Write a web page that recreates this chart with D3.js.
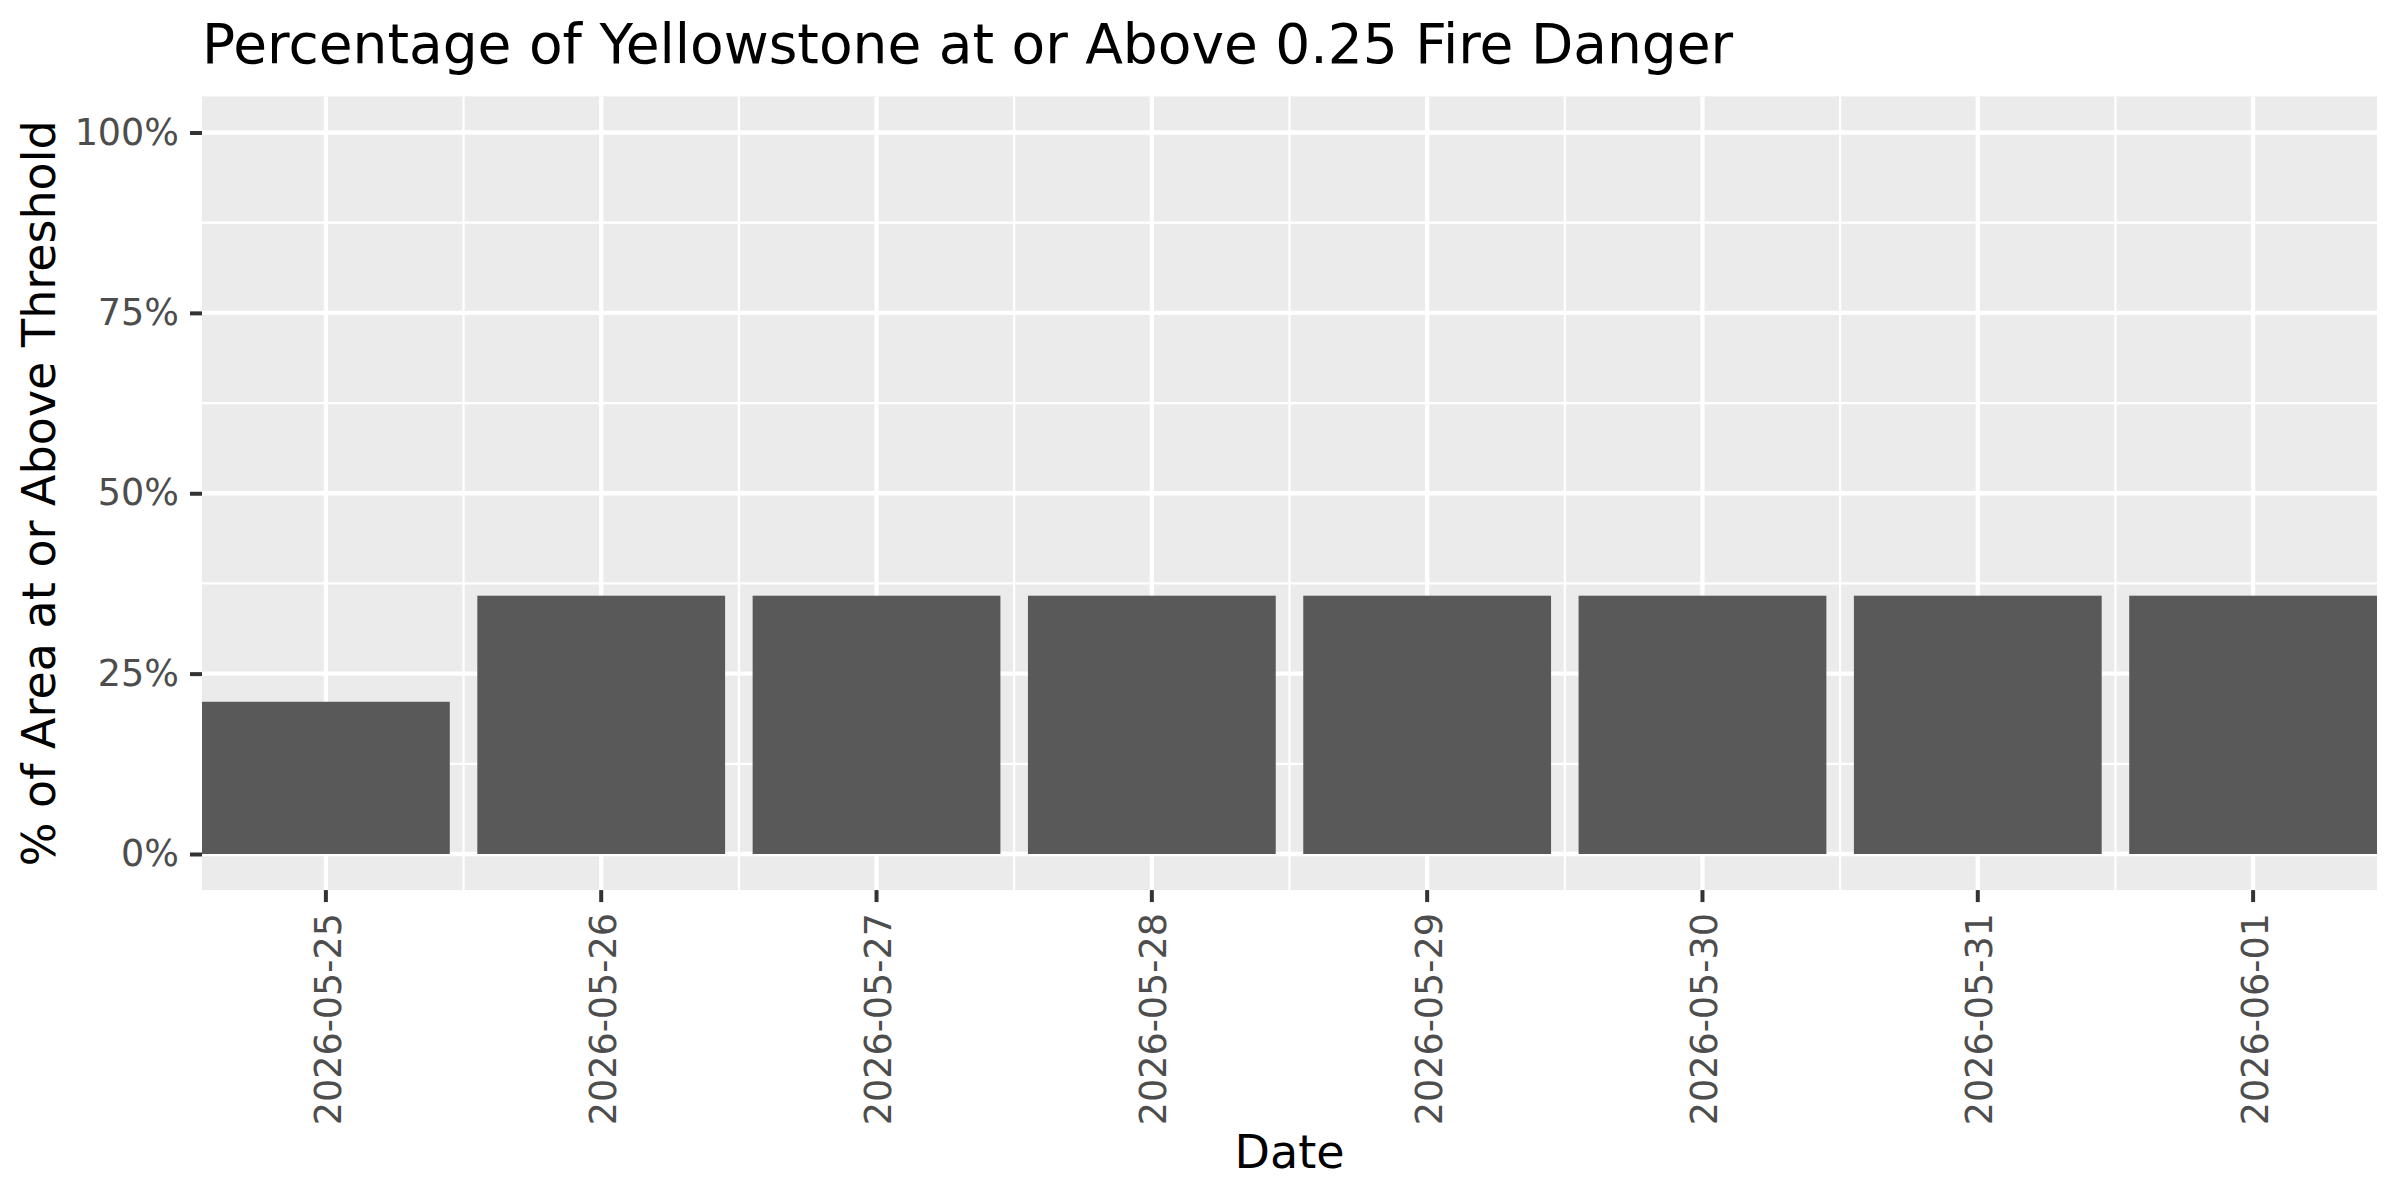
<!DOCTYPE html>
<html>
<head>
<meta charset="utf-8">
<script src="https://cdn.jsdelivr.net/npm/d3@7"></script>
<style>
  body { margin: 0; background: #fff; }
  svg { display: block; font-family: "DejaVu Sans", sans-serif; }
</style>
</head>
<body>
<svg id="chart"></svg>
<script>
// data
const dates = ['2026-05-25', '2026-05-26', '2026-05-27', '2026-05-28',
               '2026-05-29', '2026-05-30', '2026-05-31', '2026-06-01'];
const pctAbove = [21.1, 35.8, 35.8, 35.8, 35.8, 35.8, 35.8, 35.8];
const yTicks = [0, 25, 50, 75, 100];
const yMinorTicks = [12.5, 37.5, 62.5, 87.5];

const chartTitle = 'Percentage of Yellowstone at or Above 0.25 Fire Danger';
const xLabel = 'Date';
const yLabel = '% of Area at or Above Threshold';

class BarChart {
  constructor(_config, _dates, _values) {
    this.config = {
      parentElement: _config.parentElement,
      containerWidth: _config.containerWidth || 2400,
      containerHeight: _config.containerHeight || 1200,
      panel: _config.panel || {left: 202, right: 2377, zero: 854, hundred: 132.5}
    };
    this.dates = _dates;
    this.values = _values;
    this.initVis();
  }

  initVis() {
    let vis = this;
    const p = vis.config.panel;

    vis.svg = d3.select(vis.config.parentElement)
      .attr('width', vis.config.containerWidth)
      .attr('height', vis.config.containerHeight);

    // ggplot-ish: no x expansion, 5% y expansion
    vis.xScale = d3.scaleBand()
      .domain(vis.dates)
      .range([p.left, p.right])
      .paddingInner(0.1)
      .paddingOuter(0);

    vis.yScale = d3.scaleLinear()
      .domain([0, 100])
      .range([p.zero, p.hundred]);

    vis.panelTop = vis.yScale(105);
    vis.panelBottom = vis.yScale(-5);
  }

  renderVis() {
    let vis = this;
    const p = vis.config.panel;
    const step = vis.xScale.step();
    const bw = vis.xScale.bandwidth();
    const centre = d => vis.xScale(d) + bw / 2;

    // panel background
    vis.svg.append('rect')
      .attr('x', p.left)
      .attr('y', vis.panelTop)
      .attr('width', p.right - p.left)
      .attr('height', vis.panelBottom - vis.panelTop)
      .attr('fill', '#ebebeb');

    const grid = vis.svg.append('g').attr('stroke', '#fff');

    grid.selectAll('.y-minor')
      .data(yMinorTicks)
      .join('line')
      .attr('x1', p.left).attr('x2', p.right)
      .attr('y1', d => vis.yScale(d)).attr('y2', d => vis.yScale(d))
      .attr('stroke-width', 2.2);

    grid.selectAll('.x-minor')
      .data(vis.dates.slice(0, -1))
      .join('line')
      .attr('x1', d => centre(d) + step / 2).attr('x2', d => centre(d) + step / 2)
      .attr('y1', vis.panelTop).attr('y2', vis.panelBottom)
      .attr('stroke-width', 2.2);

    grid.selectAll('.y-major')
      .data(yTicks)
      .join('line')
      .attr('x1', p.left).attr('x2', p.right)
      .attr('y1', d => vis.yScale(d)).attr('y2', d => vis.yScale(d))
      .attr('stroke-width', 4.3);

    grid.selectAll('.x-major')
      .data(vis.dates)
      .join('line')
      .attr('x1', centre).attr('x2', centre)
      .attr('y1', vis.panelTop).attr('y2', vis.panelBottom)
      .attr('stroke-width', 4.3);

    // bars
    vis.svg.append('g')
      .selectAll('rect')
      .data(vis.dates.map((d, i) => ({date: d, value: vis.values[i]})))
      .join('rect')
      .attr('x', d => vis.xScale(d.date))
      .attr('width', bw)
      .attr('y', d => vis.yScale(d.value))
      .attr('height', d => vis.yScale(0) - vis.yScale(d.value))
      .attr('fill', '#595959');

    // y axis
    const yAxis = d3.axisLeft(vis.yScale)
      .tickValues(yTicks)
      .tickSize(12)
      .tickPadding(11)
      .tickFormat(d => d + '%');

    const yAxisG = vis.svg.append('g')
      .attr('transform', `translate(${p.left},0)`)
      .call(yAxis);
    yAxisG.select('.domain').remove();
    yAxisG.selectAll('line').attr('stroke', '#333').attr('stroke-width', 4);
    yAxisG.selectAll('text')
      .attr('fill', '#4d4d4d')
      .style('font-size', '36.5px')
      .style('font-family', '"DejaVu Sans", sans-serif');

    // x axis, labels turned 90 degrees
    const xAxis = d3.axisBottom(vis.xScale).tickSize(12);

    const xAxisG = vis.svg.append('g')
      .attr('transform', `translate(0,${vis.panelBottom})`)
      .call(xAxis);
    xAxisG.select('.domain').remove();
    xAxisG.selectAll('line').attr('stroke', '#333').attr('stroke-width', 4);
    xAxisG.selectAll('text')
      .attr('transform', 'rotate(-90)')
      .attr('text-anchor', 'end')
      .attr('x', -23)
      .attr('y', 0)
      .attr('dy', '0.4em')
      .attr('fill', '#4d4d4d')
      .style('font-size', '36.5px')
      .style('font-family', '"DejaVu Sans", sans-serif');

    // Title
    vis.svg.append('text')
      .attr('x', 202)
      .attr('y', 63)
      .style('font-size', '55px')
      .attr('fill', '#000')
      .text(chartTitle);

    // X
    vis.svg.append('text')
      .attr('x', (p.left + p.right) / 2)
      .attr('y', 1168)
      .attr('text-anchor', 'middle')
      .style('font-size', '46px')
      .text(xLabel);

    // Y
    vis.svg.append('text')
      .attr('transform', `translate(55,${(vis.panelTop + vis.panelBottom) / 2}) rotate(-90)`)
      .attr('text-anchor', 'middle')
      .style('font-size', '46px')
      .text(yLabel);
  }
}

const chart = new BarChart({parentElement: '#chart'}, dates, pctAbove);
chart.renderVis();
</script>
</body>
</html>
